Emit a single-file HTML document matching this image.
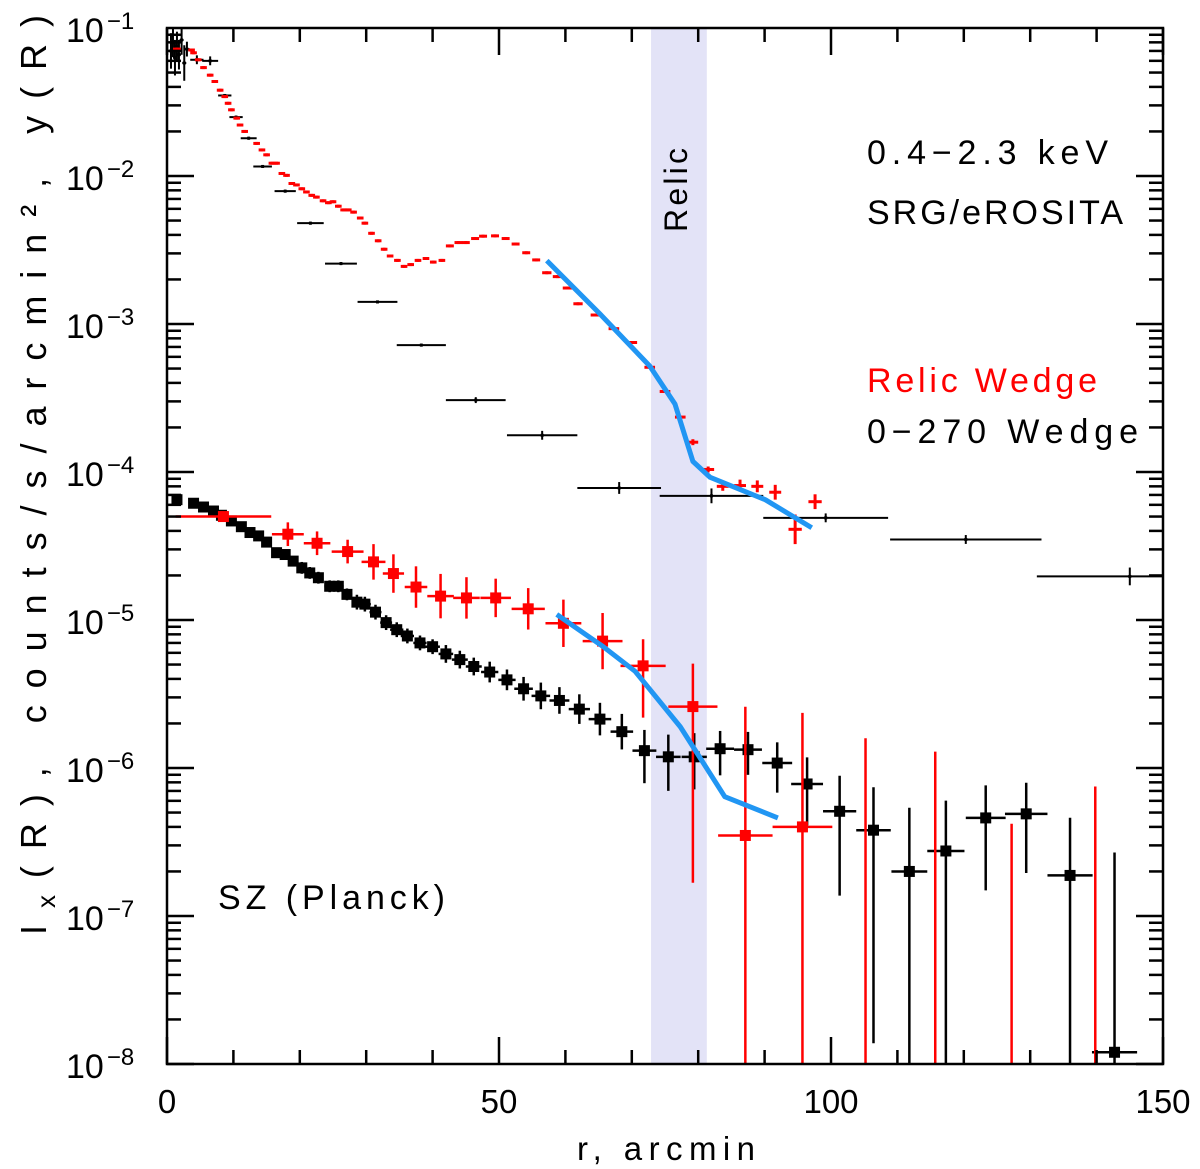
<!DOCTYPE html>
<html><head><meta charset="utf-8">
<style>
html,body{margin:0;padding:0;background:#fff;overflow:hidden;width:1200px;height:1169px;}
svg{display:block;font-family:"Liberation Sans",sans-serif;}
</style></head>
<body>
<svg id="chart" width="1200" height="1169" viewBox="0 0 1200 1169"></svg>
<script>
// ---- data ----
const relicBand = [72.9, 81.3];
// upper black X-ray profile (0-270 wedge)
const bxX   = [0.6,0.9,1.2,1.5,1.8,2.2,2.6,3.0,4.5,6.5, 8.7,10.4,12.3,14.4,17.8,21.6,26.2,31.7,38.3,46.5,56.5,68.1,82.0,99.2,120.3,145.0];
const bxY   = [7.0e-2,8.0e-2,6.3e-2,7.5e-2,6.6e-2,8.3e-2,5.8e-2,7.2e-2,6.1e-2,6.0e-2, 3.5e-2,2.5e-2,1.8e-2,1.16e-2,7.9e-3,4.8e-3,2.56e-3,1.41e-3,7.2e-4,3.06e-4,1.77e-4,7.8e-5,6.9e-5,4.9e-5,3.5e-5,1.97e-5];
const bxXerr= [0.3,0.3,0.3,0.3,0.3,0.3,0.3,0.4,1.0,1.2, 1.0,1.0,1.2,1.4,1.6,2.0,2.4,3.0,3.7,4.5,5.3,6.3,7.8,9.4,11.4,14.0];
const bxDex = [0.12,0.1,0.12,0.1,0.1,0.1,0.12,0.05,0.03,0.03, 0.01,0.01,0.01,0.01,0.01,0.01,0.01,0.01,0.01,0.02,0.03,0.04,0.05,0.03,0.03,0.06];
// upper red X-ray profile (relic wedge)
const rxX = [1.5,3.7,4.0,4.7,5.5,6.5,7.2,8.0,8.7,9.2,9.7,10.5,11.0,11.7,13.5,14.3,15.0,15.8,16.5,17.3,18.0,18.8,19.5,20.3,21.0,21.8,22.5,23.5,24.3,25.0,25.8,26.6,27.3,28.1,29.1,29.8,30.8,31.8,32.7,33.6,34.7,35.7,36.7,37.8,39.0,40.1,41.4,42.6,43.9,45.0,46.4,47.6,49.4,51.0,52.5,54.1,55.6,57.2,58.8,60.3,61.9,64.6,67.3,70.0,72.7,75.0,77.3,79.2,81.5,83.7,86.3,88.9,91.6,94.6,97.6];
const rxY = [7.2e-2,7.1e-2,6.8e-2,6.1e-2,5.4e-2,4.8e-2,4.35e-2,3.8e-2,3.44e-2,3.1e-2,2.8e-2,2.46e-2,2.21e-2,2.0e-2,1.66e-2,1.5e-2,1.39e-2,1.22e-2,1.22e-2,1.04e-2,1.01e-2,8.9e-3,8.7e-3,8.2e-3,7.8e-3,7.4e-3,7.2e-3,6.8e-3,6.6e-3,6.7e-3,6.25e-3,5.9e-3,5.9e-3,5.7e-3,5.2e-3,4.8e-3,4.1e-3,3.65e-3,3.2e-3,2.88e-3,2.69e-3,2.45e-3,2.52e-3,2.69e-3,2.77e-3,2.62e-3,2.69e-3,3.37e-3,3.55e-3,3.55e-3,3.78e-3,3.92e-3,3.94e-3,3.78e-3,3.47e-3,3.03e-3,2.71e-3,2.22e-3,2.09e-3,1.75e-3,1.37e-3,1.15e-3,9.3e-4,7.5e-4,5.1e-4,3.5e-4,2.35e-4,1.59e-4,1.04e-4,8.0e-5,8.1e-5,8.0e-5,7.3e-5,4.1e-5,6.3e-5];
const rxXerr = [0.6,0.5,0.5,0.5,0.5,0.5,0.5,0.5,0.5,0.5,0.5,0.5,0.5,0.5,0.5,0.5,0.5,0.5,0.5,0.5,0.5,0.5,0.5,0.5,0.5,0.5,0.5,0.5,0.5,0.5,0.5,0.5,0.5,0.5,0.5,0.5,0.5,0.5,0.5,0.5,0.5,0.5,0.5,0.5,0.5,0.5,0.5,0.6,0.6,0.6,0.6,0.6,0.6,0.6,0.6,0.6,0.6,0.7,0.7,0.7,0.7,0.8,0.8,0.8,0.8,0.8,0.8,0.8,0.9,0.9,0.9,0.9,0.9,1.0,1.0];
const rxDex = [0.01,0.01,0.01,0.01,0.01,0.01,0.01,0.01,0.01,0.01,0.01,0.01,0.01,0.01,0.01,0.01,0.01,0.01,0.01,0.01,0.01,0.01,0.01,0.01,0.01,0.01,0.01,0.01,0.01,0.01,0.01,0.01,0.01,0.01,0.01,0.01,0.01,0.01,0.01,0.01,0.01,0.01,0.01,0.01,0.01,0.01,0.01,0.01,0.01,0.01,0.01,0.01,0.01,0.01,0.01,0.01,0.01,0.01,0.01,0.01,0.01,0.01,0.01,0.01,0.01,0.01,0.01,0.02,0.02,0.03,0.04,0.04,0.05,0.1,0.05];
// blue model lines
const blueUpX = [57.2,65.2,72.7,76.5,79.2,81.8,90.1,97.1];
const blueUpY = [2.68e-3,1.17e-3,5.2e-4,2.88e-4,1.18e-4,9.2e-5,6.5e-5,4.2e-5];
const blueLoX = [58.7,65.7,70.5,77.3,84.0,92.0];
const blueLoY = [1.09e-5,6.6e-6,4.5e-6,1.9e-6,6.4e-7,4.6e-7];
// red SZ squares
const rsX    = [8.5,18.2,22.6,27.2,31.1,34.1,37.5,41.2,45.1,49.5,54.4,59.7,65.6,71.7,79.2,87.1,95.7];
const rsY    = [5.0e-5,3.8e-5,3.3e-5,2.9e-5,2.47e-5,2.06e-5,1.67e-5,1.45e-5,1.41e-5,1.41e-5,1.19e-5,9.5e-6,7.2e-6,4.9e-6,2.6e-6,3.5e-7,4.0e-7];
const rsXerr = [7.2,2.4,2.0,2.4,1.8,1.6,1.7,2.0,2.0,2.3,2.5,2.7,3.0,3.4,3.7,4.1,4.5];
const rsUp   = [0.03,0.08,0.08,0.08,0.12,0.13,0.14,0.15,0.14,0.13,0.14,0.16,0.19,0.18,0.29,0.87,0.77];
const rsDn   = [0.03,0.08,0.08,0.08,0.12,0.13,0.14,0.15,0.14,0.13,0.14,0.16,0.19,0.35,1.19,3,3];
// red SZ bins below the axis (upper ends only)
const rlX  = [105.2,115.7,127.2,139.8];
const rlTop= [1.59e-6,1.29e-6,4.2e-7,7.5e-7];
// black SZ squares
const bsX = [1.5,4.0,5.5,7.0,8.2,9.7,11.2,12.5,13.8,15.0,16.5,17.8,19.0,20.3,21.5,22.8,24.5,25.8,27.1,28.6,29.8,31.4,33.0,34.6,36.2,38.1,40.0,42.0,44.1,46.2,48.6,51.2,53.7,56.3,59.1,62.1,65.2,68.5,71.9,75.5,79.4,83.3,87.5,91.9,96.4,101.3,106.4,111.8,117.3,123.3,129.4,136.0,142.7];
const bsY = [6.5e-5,6.15e-5,5.8e-5,5.45e-5,5.1e-5,4.67e-5,4.27e-5,3.9e-5,3.7e-5,3.36e-5,2.85e-5,2.77e-5,2.5e-5,2.25e-5,2.08e-5,1.93e-5,1.69e-5,1.69e-5,1.49e-5,1.32e-5,1.28e-5,1.13e-5,9.6e-6,8.6e-6,7.8e-6,7.0e-6,6.6e-6,5.9e-6,5.4e-6,4.85e-6,4.45e-6,3.94e-6,3.43e-6,3.07e-6,2.86e-6,2.5e-6,2.14e-6,1.76e-6,1.31e-6,1.19e-6,1.19e-6,1.35e-6,1.33e-6,1.08e-6,7.8e-7,5.1e-7,3.8e-7,2.0e-7,2.75e-7,4.6e-7,4.9e-7,1.88e-7,1.2e-8];
const bsXerr = [0.6,0.6,0.6,0.6,0.6,0.6,0.6,0.6,0.6,0.6,0.6,0.6,0.7,0.7,0.7,0.7,0.8,0.8,0.8,0.8,0.9,0.9,0.9,1.0,1.0,1.0,1.1,1.1,1.2,1.2,1.3,1.3,1.4,1.4,1.5,1.6,1.7,1.7,1.8,1.85,1.9,2.1,2.1,2.25,2.4,2.5,2.6,2.7,2.8,3.0,3.2,3.4,3.4];
const bsUp = [0.02,0.02,0.02,0.02,0.02,0.02,0.02,0.03,0.03,0.03,0.03,0.03,0.03,0.04,0.04,0.04,0.04,0.04,0.04,0.05,0.05,0.05,0.05,0.05,0.05,0.05,0.05,0.06,0.06,0.06,0.07,0.07,0.08,0.09,0.09,0.1,0.11,0.12,0.14,0.15,0.16,0.12,0.12,0.14,0.18,0.24,0.29,0.43,0.34,0.22,0.21,0.39,1.35];
const bsDn = [0.02,0.02,0.02,0.02,0.02,0.02,0.02,0.03,0.03,0.03,0.03,0.03,0.03,0.04,0.04,0.04,0.04,0.04,0.04,0.05,0.05,0.05,0.05,0.05,0.05,0.05,0.05,0.06,0.06,0.06,0.07,0.07,0.08,0.09,0.09,0.1,0.11,0.12,0.22,0.23,0.22,0.18,0.17,0.2,0.28,0.57,1.44,3,3,0.49,0.4,3,3];
const xTicks = [0,50,100,150];
const yExps = [-1,-2,-3,-4,-5,-6,-7,-8];

// ---- axes ----
const L=167,R=1163,T=28,B=1064;
const sx = v => L + (v-0)/150*(R-L);
const sy = v => T + (-1 - Math.log10(v))*(B-T)/7;
const syL = l => T + (-1 - l)*(B-T)/7;
const NS="http://www.w3.org/2000/svg";
const svg=document.getElementById('chart');
function mk(tag, attrs, parent){const e=document.createElementNS(NS,tag);for(const k in attrs)e.setAttribute(k,attrs[k]);(parent||svg).appendChild(e);return e;}
const clipD=mk('defs',{});
const cp=mk('clipPath',{id:'pc'},clipD);
mk('rect',{x:L,y:T,width:R-L,height:B-T},cp);

// relic band
const band=mk('rect',{x:sx(relicBand[0]),y:T,width:sx(relicBand[1])-sx(relicBand[0]),height:B-T,fill:'#e3e3f7'});



const plot=mk('g',{'clip-path':'url(#pc)'});



function errPoint(g,x,y,xe,up,dn,color,w,ms){
  const cx=sx(x),cy=sy(y);
  mk('line',{x1:sx(x-xe),x2:sx(x+xe),y1:cy,y2:cy,stroke:color,'stroke-width':w},g);
  mk('line',{x1:cx,x2:cx,y1:syL(Math.log10(y)+up),y2:Math.min(B,syL(Math.log10(y)-dn)),stroke:color,'stroke-width':w},g);
  if(ms>0) mk('rect',{x:cx-ms/2,y:cy-ms/2,width:ms,height:ms,fill:color},g);
}
function poly(xs,ys,name){
  const p=mk('polyline',{points:xs.map((x,i)=>sx(x)+','+sy(ys[i])).join(' '),fill:'none',stroke:'#2196f3','stroke-width':5,'stroke-linejoin':'round'},plot);
  
  
}
const g1=mk('g',{},plot);


bxX.forEach((x,i)=>errPoint(g1,x,bxY[i],bxXerr[i],bxDex[i],bxDex[i],'#000',2,3));
const g2=mk('g',{},plot);


rxX.forEach((x,i)=>errPoint(g2,x,rxY[i],rxXerr[i],rxDex[i],rxDex[i],'#ff0000',3,0));
const g3=mk('g',{},plot);


bsX.forEach((x,i)=>errPoint(g3,x,bsY[i],bsXerr[i],bsUp[i],bsDn[i],'#000',2.5,11));
const g4=mk('g',{},plot);


rsX.forEach((x,i)=>errPoint(g4,x,rsY[i],rsXerr[i],rsUp[i],rsDn[i],'#ff0000',2.5,11));
rlX.forEach((x,i)=>{mk('line',{x1:sx(x),x2:sx(x),y1:sy(rlTop[i]),y2:B,stroke:'#ff0000','stroke-width':2.5},g4);});
poly(blueUpX,blueUpY,'model-line-xray');
poly(blueLoX,blueLoY,'model-line-sz');

const frame=mk('rect',{x:L,y:T,width:R-L,height:B-T,fill:'none',stroke:'#000','stroke-width':2.5});


const tk=mk('g',{stroke:'#000','stroke-width':2.5});


for(let v=0;v<=150;v+=10){
  const len=(v%50===0)?27:14;
  mk('line',{x1:sx(v),x2:sx(v),y1:B,y2:B-len},tk);
  mk('line',{x1:sx(v),x2:sx(v),y1:T,y2:T+len},tk);
}
for(let e=-8;e<=-2;e++){
  for(let m=1;m<10;m++){
    const v=m*Math.pow(10,e); const y=sy(v); const len=m===1?27:14;
    if(y<T-0.5)continue;
    mk('line',{x1:L,x2:L+len,y1:y,y2:y},tk);
    mk('line',{x1:R,x2:R-len,y1:y,y2:y},tk);
  }
}
xTicks.forEach(v=>{
  const t=mk('text',{x:sx(v),y:1113,'font-size':33,'text-anchor':'middle',fill:'#000'});
  t.textContent=String(v);
  
  
});
yExps.forEach(e=>{
  const y=syL(e);
  const t=mk('text',{x:66,y:y+14,'font-size':34,fill:'#000'});
  
  
  const a=mk('tspan',{},t); a.textContent='10';
  const b=mk('tspan',{dy:-13,'font-size':24,dx:3}); t.appendChild(b); b.textContent='\u2212'+(-e);
});
function label(txt,x,y,size,len,name,color,extra){
  const t=mk('text',Object.assign({x:x,y:y,'font-size':size,fill:color||'#000',textLength:len,lengthAdjust:'spacing'},extra||{}));
  t.textContent=txt;
  
  
  return t;
}
label('r, arcmin',577,1160,33,178,'x-axis-title');
label('0.4\u22122.3 keV',867,164,34,241,'energy-band-label');
label('SRG/eROSITA',867,224,34,256,'instrument-label');
label('Relic Wedge',867,392,34,230,'legend-relic-wedge','#ff0000');
label('0\u2212270 Wedge',867,443,34,271,'legend-0-270-wedge');
label('SZ (Planck)',218,909,34,227,'sz-planck-label');
label('Relic',0,0,32,84,'relic-band-label','#000',{transform:'translate(687,232) rotate(-90)'});
const yt=mk('text',{x:0,y:0,'font-size':36,fill:'#000',transform:'translate(46,935) rotate(-90)',textLength:920,lengthAdjust:'spacing'});


const s1=mk('tspan',{},yt); s1.textContent='I';
const s2=mk('tspan',{dy:9,'font-size':26},yt); s2.textContent='x';
const s3=mk('tspan',{dy:-9},yt); s3.textContent='(R), counts/s/arcmin\u00b2, y(R)';
</script>
</body></html>
